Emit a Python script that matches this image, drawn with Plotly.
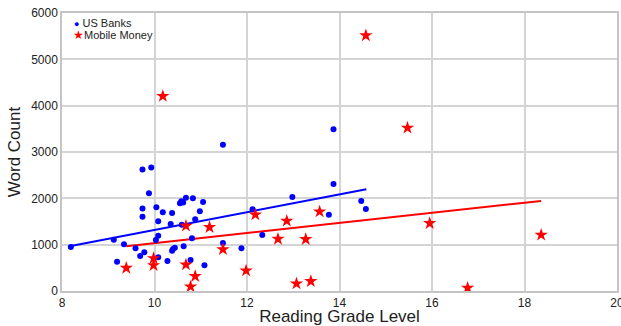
import plotly.graph_objects as go

# US Banks: reading grade level vs word count
us_grade = [8.19, 9.12, 9.19, 9.34, 9.59, 9.69, 9.78, 9.74, 9.93, 9.88, 9.74, 9.74,
            10.04, 10.08, 10.18, 10.38, 10.35, 10.03, 10.08, 10.08, 10.28, 10.38, 10.40,
            10.44, 10.55, 10.58, 10.62, 10.68, 10.83, 11.05, 10.98, 10.88, 10.59, 10.63,
            10.81, 10.78, 11.08, 11.48, 11.48, 13.87, 13.87, 12.98, 12.12, 12.33, 11.88,
            13.77, 14.47, 14.57]
us_words = [950, 1108, 633, 1009, 922, 756, 835, 2620, 2664, 2110, 1778, 1605,
            1808, 1505, 1700, 1685, 1447, 1102, 1195, 727, 648, 871, 907,
            935, 1894, 1937, 1908, 2015, 2002, 1922, 1721, 1548, 1432, 965,
            1138, 670, 555, 3154, 1037, 3493, 2311, 2030, 1765, 1210, 922,
            1648, 1944, 1771]

# Mobile Money
mm_grade = [9.39, 9.98, 9.98, 10.68, 11.19, 11.48, 10.68, 10.88, 10.78, 10.18,
            12.18, 12.86, 12.67, 13.27, 13.57, 11.98, 13.07, 13.38,
            14.57, 15.47, 15.95, 18.36, 16.77]
mm_words = [497, 706, 555, 1404, 1376, 900, 568, 318, 93, 4205,
            1648, 1512, 1123, 1117, 1713, 439, 158, 210,
            5515, 3521, 1462, 1210, 65]

# Trend lines (endpoints)
us_trend_x = [8.19, 14.58]
us_trend_y = [970, 2197]
mm_trend_x = [9.39, 18.36]
mm_trend_y = [965, 1944]

x_ticks = [8, 10, 12, 14, 16, 18, 20]
y_ticks = [0, 1000, 2000, 3000, 4000, 5000, 6000]
series_names = ["US Banks", "Mobile Money"]

BLUE = "#0000ff"
RED = "#ff0000"
GRID = "#d4d4d4"

fig = go.Figure()
fig.add_trace(go.Scatter(x=us_trend_x, y=us_trend_y, mode="lines",
                         line=dict(color=BLUE, width=2), showlegend=False, hoverinfo="skip"))
fig.add_trace(go.Scatter(x=mm_trend_x, y=mm_trend_y, mode="lines",
                         line=dict(color=RED, width=2), showlegend=False, hoverinfo="skip"))
fig.add_trace(go.Scatter(x=us_grade, y=us_words, mode="markers", name=series_names[0],
                         marker=dict(color=BLUE, size=6, symbol="circle"), showlegend=False))
fig.add_trace(go.Scatter(x=mm_grade, y=mm_words, mode="markers", name=series_names[1],
                         marker=dict(color=RED, size=10, symbol="star"), showlegend=False))

# Legend drawn as annotations (compact, like the reference)
fig.add_annotation(xref="paper", yref="paper", x=0.018, y=0.965, xanchor="left", yanchor="middle",
                   showarrow=False, font=dict(size=11, color="#222"),
                   text=f"<span style='color:{BLUE};font-size:9px'>●</span> {series_names[0]}")
fig.add_annotation(xref="paper", yref="paper", x=0.016, y=0.922, xanchor="left", yanchor="middle",
                   showarrow=False, font=dict(size=11, color="#222"),
                   text=f"<span style='color:{RED};font-size:12px'>★</span>{series_names[1]}")

fig.update_layout(
    width=621, height=326,
    margin=dict(l=62, r=4, t=13, b=35, autoexpand=False),
    paper_bgcolor="white", plot_bgcolor="white",
    font=dict(family="Liberation Sans, Arial, sans-serif", size=12, color="#222"),
    showlegend=False,
)
fig.update_xaxes(range=[8, 20], tickvals=x_ticks, ticktext=[str(v) for v in x_ticks],
                 showgrid=True, gridcolor=GRID, gridwidth=1.5, automargin=False,
                 zeroline=False, showline=True, linecolor="#c4c4c4", linewidth=1.5, mirror=True,
                 ticks="", ticklabeloverflow="allow",
                 title=dict(text="Reading Grade Level", font=dict(size=17), standoff=2))
fig.update_yaxes(range=[0, 6000], tickvals=y_ticks, ticktext=[str(v) for v in y_ticks],
                 showgrid=True, gridcolor=GRID, gridwidth=1.5, automargin=False,
                 zeroline=False, showline=True, linecolor="#c4c4c4", linewidth=1.5, mirror=True,
                 ticks="", ticklabeloverflow="allow",
                 title=dict(text="Word Count", font=dict(size=17), standoff=6))

fig.write_html("out.html", config={"displayModeBar": False},
               post_script="document.body.style.margin='0';document.body.style.overflow='hidden';")
